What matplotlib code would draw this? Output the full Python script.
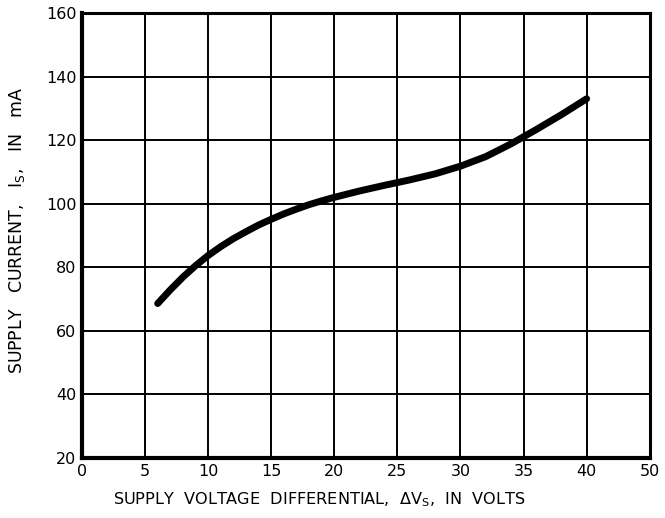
import numpy as np
import matplotlib.pyplot as plt

# values
v_diff = [6, 7, 8, 9, 10, 11, 12, 13, 14, 15, 16, 17, 18, 19, 20,
          22, 24, 26, 28, 30, 32, 34, 36, 38, 40]
i_supply = [68.6, 72.9, 76.9, 80.5, 83.7, 86.5, 89, 91.2, 93.3, 95.1, 96.8, 98.3, 99.7, 100.9, 102,
            104, 105.8, 107.5, 109.4, 111.8, 114.8, 118.8, 123.3, 128, 133]

x_ticks = [0, 5, 10, 15, 20, 25, 30, 35, 40, 45]
x_labels = ["0", "5", "10", "15", "20", "25", "30", "35", "40", "50"]  # last column is drawn short in the original
y_ticks = [20, 40, 60, 80, 100, 120, 140, 160]

fig = plt.figure(figsize=(6.65, 5.18), dpi=100)
ax = fig.add_axes([0.1233, 0.1158, 0.8537, 0.8592])

ax.plot(v_diff, i_supply, color="black", lw=5, solid_capstyle="round",
        solid_joinstyle="round", zorder=3)

ax.set_xlim(0, 45)
ax.set_ylim(20, 160)
ax.set_xticks(x_ticks)
ax.set_xticklabels(x_labels)
ax.set_yticks(y_ticks)
ax.grid(True, color="black", lw=1.4)
ax.tick_params(length=0, labelsize=11.5, pad=4)

for side, w in [("left", 3), ("bottom", 3), ("top", 2.2), ("right", 2.2)]:
    ax.spines[side].set_linewidth(w)

# axis titles placed where the original has them
fig.text(319 / 665, 1 - 500 / 518,
         r"SUPPLY  VOLTAGE  DIFFERENTIAL,  $\Delta$V$_\mathrm{S}$,  IN  VOLTS",
         fontsize=11.6, ha="center", va="center")
fig.text(17 / 665, 1 - 230 / 518, r"SUPPLY   CURRENT,   I$_\mathrm{S}$,   IN   mA",
         fontsize=12.5, ha="center", va="center", rotation=90)

plt.savefig("out.png", dpi=100)
